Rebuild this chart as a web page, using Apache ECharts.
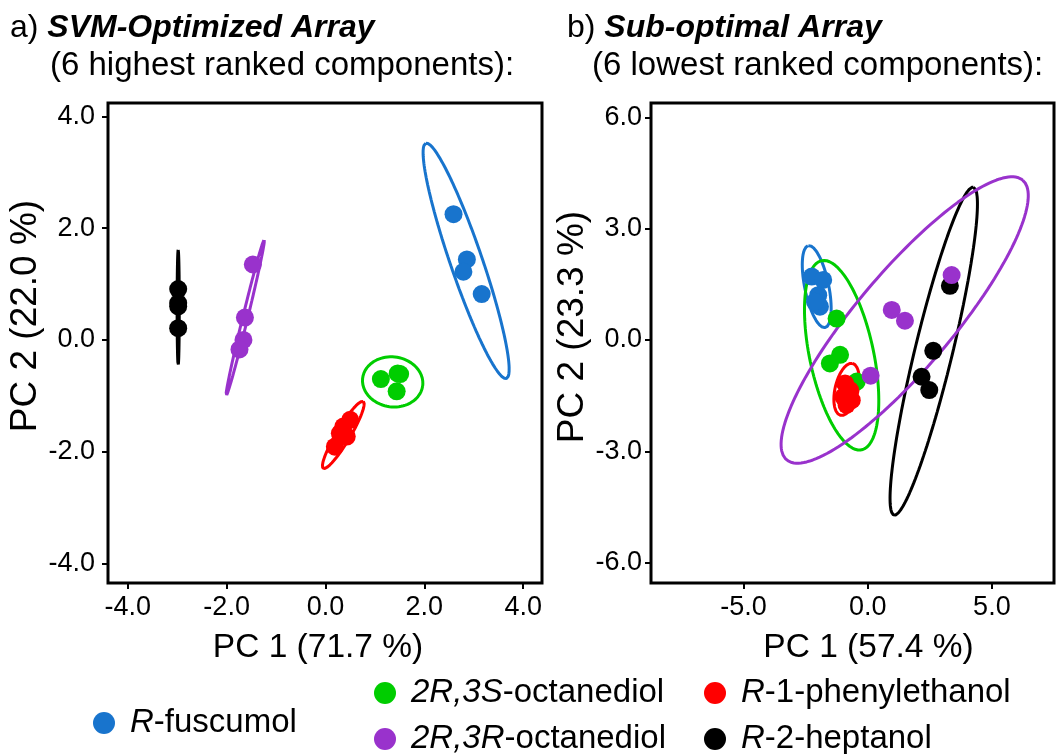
<!DOCTYPE html>
<html>
<head>
<meta charset="utf-8">
<script src="https://cdn.jsdelivr.net/npm/echarts@6/dist/echarts.min.js"></script>
<style>
  html, body { margin: 0; padding: 0; background: #fff; }
  #chart { width: 1063px; height: 754px; }
</style>
</head>
<body>
<div id="chart"></div>
<script>
// Compound names (series names, also legend entries)
const compounds = ['R-fuscumol', '2R,3S-octanediol', '2R,3R-octanediol', 'R-1-phenylethanol', 'R-2-heptanol'];
const colors = ['#1874CD', '#00CD00', '#9932CC', '#FF0000', '#000000'];

// Axis titles and tick values
const titleA = 'SVM-Optimized Array';
const subA = '(6 highest ranked components):';
const titleB = 'Sub-optimal Array';
const subB = '(6 lowest ranked components):';
const xNameA = 'PC 1 (71.7 %)';
const yNameA = 'PC 2 (22.0 %)';
const xNameB = 'PC 1 (57.4 %)';
const yNameB = 'PC 2 (23.3 %)';
const xTicksA = [-4, -2, 0, 2, 4];
const yTicksA = [-4, -2, 0, 2, 4];
const xTicksB = [-5, 0, 5];
const yTicksB = [-6, -3, 0, 3, 6];

// a) PCA scores, SVM-optimized array
const fuscumolA = [[2.59, 2.25], [2.86, 1.44], [2.79, 1.22], [3.16, 0.82]];
const octSA = [[1.12, -0.70], [1.51, -0.61], [1.46, -0.60], [1.44, -0.92]];
const octRA = [[-1.47, 1.35], [-1.63, 0.40], [-1.66, 0.00], [-1.74, -0.17]];
const phenA = [[0.19, -1.91], [0.29, -1.67], [0.43, -1.73], [0.50, -1.43], [0.36, -1.55]];
const heptA = [[-2.98, 0.91], [-2.98, 0.66], [-2.98, 0.60], [-2.98, 0.21]];

// b) PCA scores, sub-optimal array
const fuscumolB = [[-2.25, 1.71], [-1.79, 1.62], [-1.99, 1.21], [-1.92, 0.90], [-2.12, 1.03]];
const octSB = [[-1.25, 0.58], [-1.11, -0.40], [-1.52, -0.63], [-0.44, -1.12]];
const octRB = [[0.97, 0.81], [1.50, 0.52], [0.12, -0.96], [3.38, 1.75]];
const phenB = [[-0.91, -1.17], [-0.71, -1.35], [-0.98, -1.53], [-0.85, -1.75], [-0.64, -1.62]];
const heptB = [[3.31, 1.46], [2.64, -0.29], [2.17, -0.99], [2.48, -1.35]];

// Confidence ellipses: [centerX, centerY, semiAxisU_x, semiAxisU_y, semiAxisV_x, semiAxisV_y]
const fuscumolEllA = [2.845, 1.415, -0.815, 2.105, 0.306, 0.093];
const octSEllA = [1.359, -0.751, 0.607, -0.072, -0.067, -0.443];
const octREllA = [-1.625, 0.395, 0.385, 1.395, 0.049, -0.011];
const phenEllA = [0.36, -1.70, 0.405, 0.60, 0.121, -0.064];
const heptEllA = [-2.98, 0.58, 0.0, 1.03, 0.022, 0.0];

const fuscumolEllB = [-2.05, 1.44, -0.338, 1.105, 0.473, 0.065];
const octSEllB = [-1.047, -0.41, -0.805, 2.55, 1.26, 0.178];
const octREllB = [1.49, 0.54, 4.75, 3.77, 1.478, -0.835];
const phenEllB = [-0.85, -1.33, 0.238, 0.70, 0.451, -0.066];
const heptEllB = [2.66, -0.30, 1.598, 4.42, 0.735, -0.119];

const FONT = "'Liberation Sans', Arial, sans-serif";

// Outline of an ellipse given its centre and two conjugate semi-axes
function ellipseOutline(e) {
  const [cx, cy, ux, uy, vx, vy] = e;
  const pts = [];
  const n = 160;
  for (let k = 0; k <= n; k++) {
    const t = 2 * Math.PI * k / n;
    pts.push([cx + ux * Math.cos(t) + vx * Math.sin(t), cy + uy * Math.cos(t) + vy * Math.sin(t)]);
  }
  return pts;
}

const panelA = { points: [fuscumolA, octSA, octRA, phenA, heptA], ells: [fuscumolEllA, octSEllA, octREllA, phenEllA, heptEllA] };
const panelB = { points: [fuscumolB, octSB, octRB, phenB, heptB], ells: [fuscumolEllB, octSEllB, octREllB, phenEllB, heptEllB] };

// Points drawn above outlines; purple above black
const drawOrder = [4, 0, 1, 3, 2];

function panelSeries(panel, idx) {
  const out = [];
  drawOrder.forEach(i => {
    out.push({
      type: 'line', name: compounds[i], xAxisIndex: idx, yAxisIndex: idx,
      data: ellipseOutline(panel.ells[i]), showSymbol: false, symbol: 'none',
      lineStyle: { color: colors[i], width: 3 }, itemStyle: { color: colors[i] },
      z: 2, silent: true, animation: false
    });
  });
  drawOrder.forEach(i => {
    out.push({
      type: 'scatter', name: compounds[i], xAxisIndex: idx, yAxisIndex: idx,
      data: panel.points[i], symbol: 'circle', symbolSize: 18,
      itemStyle: { color: colors[i], opacity: 1 }, z: 3, animation: false
    });
  });
  return out;
}

function fmt(v) { return v.toFixed(1); }

function xAxisCfg(idx, min, max, ticks, name, namePad) {
  return {
    type: 'value', gridIndex: idx, min: min, max: max,
    splitLine: { show: false }, axisLine: { show: false, onZero: false },
    axisTick: { show: true, inside: false, length: 6, customValues: ticks, lineStyle: { color: '#000', width: 2 } },
    axisLabel: { customValues: ticks, formatter: fmt, color: '#000', fontSize: 27, fontFamily: FONT, margin: 11 },
    name: name, nameLocation: 'middle', nameGap: 48,
    nameTextStyle: { color: '#000', fontSize: 33.5, fontFamily: FONT, padding: namePad }
  };
}
function yAxisCfg(idx, min, max, ticks, name, gap, margin, namePad) {
  return {
    type: 'value', gridIndex: idx, min: min, max: max,
    splitLine: { show: false }, axisLine: { show: false, onZero: false },
    axisTick: { show: true, inside: false, length: 6, customValues: ticks, lineStyle: { color: '#000', width: 2 } },
    axisLabel: { customValues: ticks, formatter: fmt, color: '#000', fontSize: 27, fontFamily: FONT, margin: margin },
    name: name, nameLocation: 'middle', nameGap: gap, nameRotate: 90,
    nameTextStyle: { color: '#000', fontSize: 37, fontFamily: FONT, padding: namePad }
  };
}

// Legend: one block per compound, italic stereo descriptor before the first hyphen
const legendPos = [[93, 705], [374, 675], [374, 721], [704, 675], [704, 721]];
const legends = compounds.map((c, i) => ({
  data: [c], left: legendPos[i][0], top: legendPos[i][1], padding: 0,
  icon: 'circle', itemWidth: 22, itemHeight: 22, itemGap: 0,
  selectedMode: true,
  formatter: n => { const k = n.indexOf('-'); return '{i|' + n.slice(0, k) + '}{r|' + n.slice(k) + '}'; },
  textStyle: {
    color: '#000', fontSize: 33, fontFamily: FONT, lineHeight: 36, padding: [0, 0, 0, 10],
    rich: {
      i: { fontStyle: 'italic', fontSize: 33, fontFamily: FONT, color: '#000', lineHeight: 36 },
      r: { fontSize: 33, fontFamily: FONT, color: '#000', lineHeight: 36 }
    }
  }
}));

function headline(label, text, left) {
  return {
    left: left, top: 8, padding: 0,
    text: '{n|' + label + ') }{b|' + text + '}',
    textStyle: {
      fontWeight: 'normal',
      rich: {
        n: { fontSize: 32, fontFamily: FONT, color: '#000', fontWeight: 'normal', lineHeight: 40 },
        b: { fontSize: 32, fontFamily: FONT, color: '#000', fontWeight: 'bold', fontStyle: 'italic', lineHeight: 40 }
      }
    }
  };
}
function subline(text, left) {
  return {
    left: left, top: 46, padding: 0, text: text,
    textStyle: { fontSize: 33, fontFamily: FONT, color: '#000', fontWeight: 'normal', lineHeight: 40 }
  };
}

const chart = echarts.init(document.getElementById('chart'), null, { renderer: 'canvas' });
chart.setOption({
  backgroundColor: '#fff',
  animation: false,
  title: [headline('a', titleA, 10), subline(subA, 50), headline('b', titleB, 567), subline(subB, 592)],
  legend: legends,
  grid: [
    { left: 108, top: 103, width: 434, height: 480, show: true, borderColor: '#000', borderWidth: 3, backgroundColor: 'transparent' },
    { left: 651, top: 103, width: 403, height: 480, show: true, borderColor: '#000', borderWidth: 3, backgroundColor: 'transparent' }
  ],
  xAxis: [
    xAxisCfg(0, -4.4, 4.38, xTicksA, xNameA, [0, 14, 0, 0]),
    xAxisCfg(1, -8.72, 7.5, xTicksB, xNameB, [0, 0, 0, 32])
  ],
  yAxis: [
    yAxisCfg(0, -4.35, 4.24, yTicksA, yNameA, 63, 13, [0, 0, 0, 54]),
    yAxisCfg(1, -6.55, 6.39, yTicksB, yNameB, 55, 9, [0, 0, 0, 32])
  ],
  series: panelSeries(panelA, 0).concat(panelSeries(panelB, 1))
});
</script>
</body>
</html>
